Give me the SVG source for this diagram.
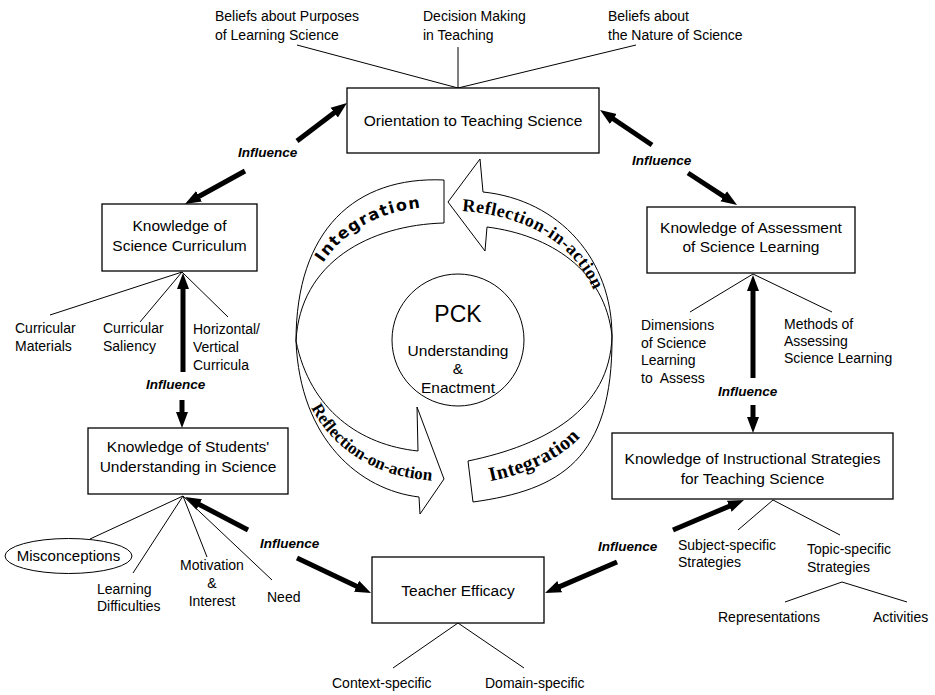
<svg xmlns="http://www.w3.org/2000/svg" width="935" height="695" viewBox="0 0 935 695">
<defs>
<style>
text{font-family:"Liberation Sans",Arial,sans-serif;fill:#000}
.box{fill:#fff;stroke:#000;stroke-width:1.3}
.bt{font-size:15.5px;text-anchor:middle}
.lb{font-size:14px}
.c{text-anchor:middle}
.inf{font-size:13.5px;font-weight:bold;font-style:italic}
.thin{stroke:#000;stroke-width:1;fill:none}
.thick{stroke:#000;stroke-width:5;fill:none;marker-end:url(#ah)}
.cyc{fill:#fff;stroke:#000;stroke-width:1}
.sans{font-family:"DejaVu Sans",sans-serif;font-weight:bold}
.serif{font-family:"Liberation Serif",serif;font-weight:bold}
</style>
<marker id="ah" markerUnits="userSpaceOnUse" markerWidth="18" markerHeight="16" refX="7" refY="7" orient="auto"><path d="M0,1 L16,7 L0,13 Z" fill="#000"/></marker>
<path id="p1" d="M301.5,341 C302.5,250 366,205.5 444,206.5"/>
<path id="p2" d="M458,211 C548,215 598,265 603,330"/>
<path id="p3" d="M291.5,341 C300,428 357,472 418.5,479 L450,483"/>
<path id="p4" d="M470.5,485 C554,471.5 614,438 616,333"/>
</defs>
<rect width="935" height="695" fill="#fff"/>

<g id="cycle">
<path class="cyc" d="M444,180 C355,176 296,230 296,341 C300,262 370,225 444,223 Z"/>
<path class="cyc" d="M448,202 L480,159 L483,192 C560,200 612,260 612,336 C605,270 550,235 487,227 L485,251 Z"/>
<path class="cyc" d="M468,461 C545,445 610,410 612,336 C613,460 560,490 473,502 Z"/>
<path class="cyc" d="M296,341 C310,410 360,445 418,451 L417,407 L444,479 L420,514 L419,497 C360,490 300,440 296,341 Z"/>
<text class="sans" font-size="16" letter-spacing="1.4"><textPath href="#p1" startOffset="82">Integration</textPath></text>
<text class="serif" font-size="18" letter-spacing="0.5"><textPath href="#p2" startOffset="4">Reflection-in-action</textPath></text>
<text class="serif" font-size="17"><textPath href="#p3" startOffset="70">Reflection-on-action</textPath></text>
<text class="serif" font-size="20" letter-spacing="0.5"><textPath href="#p4" startOffset="20">Integration</textPath></text>
</g>

<g id="pck">
<circle cx="458" cy="340" r="66" fill="#fff" stroke="#000" stroke-width="1"/>
<text class="c" x="458" y="322" font-size="23">PCK</text>
<text class="c" x="458" y="356" font-size="15.5">Understanding</text>
<text class="c" x="458" y="374" font-size="15.5">&amp;</text>
<text class="c" x="458" y="393" font-size="15.5">Enactment</text>
</g>

<g id="connectors">
<line class="thin" x1="297" y1="45" x2="458" y2="88"/>
<line class="thin" x1="458" y1="47" x2="458" y2="88"/>
<line class="thin" x1="636" y1="45" x2="458" y2="88"/>
<line class="thin" x1="182" y1="272" x2="50" y2="315"/>
<line class="thin" x1="182" y1="272" x2="140" y2="322"/>
<line class="thin" x1="182" y1="272" x2="228" y2="317"/>
<line class="thin" x1="753" y1="274" x2="690" y2="312"/>
<line class="thin" x1="753" y1="274" x2="832" y2="312"/>
<line class="thin" x1="183" y1="496" x2="90" y2="539"/>
<line class="thin" x1="183" y1="496" x2="133" y2="573"/>
<line class="thin" x1="183" y1="496" x2="207" y2="557"/>
<line class="thin" x1="183" y1="496" x2="272" y2="580"/>
<line class="thin" x1="773" y1="500" x2="738" y2="530"/>
<line class="thin" x1="773" y1="500" x2="840" y2="535"/>
<line class="thin" x1="842" y1="582" x2="785" y2="602"/>
<line class="thin" x1="842" y1="582" x2="907" y2="602"/>
<line class="thin" x1="458" y1="623" x2="393" y2="668"/>
<line class="thin" x1="458" y1="623" x2="524" y2="668"/>
<line class="thick" x1="297" y1="141" x2="339.8" y2="108.4"/>
<line class="thick" x1="245" y1="171" x2="192.9" y2="199.7"/>
<line class="thick" x1="652" y1="145" x2="607.5" y2="115"/>
<line class="thick" x1="688" y1="173" x2="729.5" y2="200.1"/>
<line class="thick" x1="183" y1="372" x2="183" y2="282"/>
<line class="thick" x1="182" y1="400" x2="182" y2="419"/>
<line class="thick" x1="753" y1="378" x2="753" y2="284"/>
<line class="thick" x1="753" y1="405" x2="753" y2="424"/>
<line class="thick" x1="248" y1="530" x2="193" y2="501.2"/>
<line class="thick" x1="297" y1="558" x2="362.9" y2="589.2"/>
<line class="thick" x1="673" y1="530" x2="735.7" y2="503.5"/>
<line class="thick" x1="617" y1="562" x2="553.3" y2="589.4"/>
<text class="inf" x="238" y="157">Influence</text>
<text class="inf" x="632" y="165">Influence</text>
<text class="inf" x="146" y="389">Influence</text>
<text class="inf" x="718" y="396">Influence</text>
<text class="inf" x="260" y="548">Influence</text>
<text class="inf" x="598" y="551">Influence</text>
</g>

<g id="orientation">
<rect class="box" x="347" y="88" width="252" height="65"/>
<text class="bt" x="473" y="126">Orientation to Teaching Science</text>
</g>
<g id="curriculum">
<rect class="box" x="102" y="204" width="155" height="67"/>
<text class="bt" x="179.5" y="231">Knowledge of</text>
<text class="bt" x="179.5" y="251">Science Curriculum</text>
</g>
<g id="assessment">
<rect class="box" x="647" y="207" width="208" height="66"/>
<text class="bt" x="751" y="233">Knowledge of Assessment</text>
<text class="bt" x="751" y="252">of Science Learning</text>
</g>
<g id="students">
<rect class="box" x="88" y="428" width="200" height="66"/>
<text class="bt" x="188" y="452">Knowledge of Students'</text>
<text class="bt" x="188" y="472">Understanding in Science</text>
</g>
<g id="strategies">
<rect class="box" x="612" y="433" width="281" height="66"/>
<text class="bt" x="752.5" y="464">Knowledge of Instructional Strategies</text>
<text class="bt" x="752.5" y="484">for Teaching Science</text>
</g>
<g id="efficacy">
<rect class="box" x="372" y="557" width="172" height="66"/>
<text class="bt" x="458" y="596">Teacher Efficacy</text>
</g>

<g id="orientation-items">
<text class="lb" x="215" y="21">Beliefs about Purposes</text>
<text class="lb" x="215" y="40">of Learning Science</text>
<text class="lb" x="423" y="21">Decision Making</text>
<text class="lb" x="423" y="40">in Teaching</text>
<text class="lb" x="608" y="21">Beliefs about</text>
<text class="lb" x="608" y="40">the Nature of Science</text>
</g>
<g id="curriculum-items">
<text class="lb" x="15" y="333">Curricular</text>
<text class="lb" x="15" y="351">Materials</text>
<text class="lb" x="103" y="333">Curricular</text>
<text class="lb" x="103" y="351">Saliency</text>
<text class="lb" x="193" y="334">Horizontal/</text>
<text class="lb" x="193" y="352">Vertical</text>
<text class="lb" x="193" y="370">Curricula</text>
</g>
<g id="assessment-items">
<text class="lb" x="641" y="330">Dimensions</text>
<text class="lb" x="641" y="347.5">of Science</text>
<text class="lb" x="641" y="365">Learning</text>
<text class="lb" x="641" y="382.5" xml:space="preserve">to  Assess</text>
<text class="lb" x="784" y="329">Methods of</text>
<text class="lb" x="784" y="346">Assessing</text>
<text class="lb" x="784" y="363">Science Learning</text>
</g>
<g id="students-items">
<g id="misconceptions">
<ellipse cx="68.5" cy="556" rx="63.5" ry="17.5" fill="#fff" stroke="#000" stroke-width="1"/>
<text class="c" x="68.5" y="561" font-size="15">Misconceptions</text>
</g>
<text class="lb" x="97" y="594">Learning</text>
<text class="lb" x="97" y="611">Difficulties</text>
<text class="lb c" x="212" y="570">Motivation</text>
<text class="lb c" x="212" y="588">&amp;</text>
<text class="lb c" x="212" y="606">Interest</text>
<text class="lb" x="267" y="602">Need</text>
</g>
<g id="strategies-items">
<text class="lb" x="678" y="550">Subject-specific</text>
<text class="lb" x="678" y="567">Strategies</text>
<text class="lb" x="807" y="554">Topic-specific</text>
<text class="lb" x="807" y="572">Strategies</text>
<text class="lb" x="718" y="622">Representations</text>
<text class="lb" x="873" y="622">Activities</text>
</g>
<g id="efficacy-items">
<text class="lb" x="332" y="688">Context-specific</text>
<text class="lb" x="485" y="688">Domain-specific</text>
</g>
</svg>
